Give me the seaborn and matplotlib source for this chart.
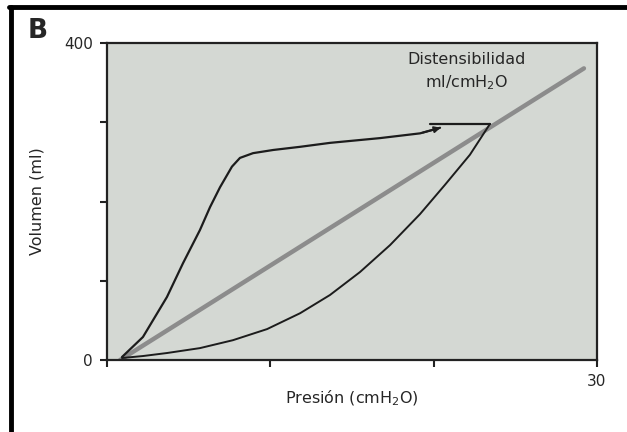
import matplotlib
matplotlib.use("Agg")
import matplotlib.pyplot as plt
import seaborn as sns
import pandas as pd
from matplotlib.lines import Line2D

sns.set_theme(style="white")
plt.rcParams['font.family'] = ['DejaVu Sans']

# Upper limb of the loop
upper_p = [0.92, 2.20, 3.67, 4.65, 5.69, 6.31, 6.92, 7.65, 8.14, 8.94, 10.17, 11.82, 13.66, 16.72, 19.17, 20.39]
upper_v = [3.8, 29, 79.5, 122, 164, 193, 218, 244, 255, 261, 265, 269, 274, 280, 286, 293]

# Horizontal top segment
top_p = [19.78, 23.45]
top_v = [298, 298]

# Lower limb of the loop
lower_p = [23.45, 22.22, 20.69, 19.16, 17.33, 15.49, 13.65, 11.82, 9.80, 7.71, 5.69, 3.67, 2.20, 0.92]
lower_v = [298, 259, 221, 184, 145, 111, 82, 59, 39, 25, 15, 8.8, 5, 2.5]

# Compliance line
comp_p = [0.8, 29.2]
comp_v = [0, 368]

x_ticks = [0, 10, 20, 30]
x_labels = ['', '', '', '30']
y_ticks = [0, 100, 200, 300, 400]
y_labels = ['0', '', '', '', '400']

fig = plt.figure(figsize=(6.27, 4.32), dpi=100)
ax = fig.add_axes([107/627, 1-360/432, 490/627, 317/432])
ax.set_facecolor('#d4d8d3')

df_c = pd.DataFrame({'p': comp_p, 'v': comp_v})
sns.lineplot(data=df_c, x='p', y='v', ax=ax, color='#8c8c8c', lw=3.2, sort=False)
df_u = pd.DataFrame({'p': upper_p, 'v': upper_v})
sns.lineplot(data=df_u, x='p', y='v', ax=ax, color='#1c1c1c', lw=1.6, sort=False)
df_t = pd.DataFrame({'p': top_p, 'v': top_v})
sns.lineplot(data=df_t, x='p', y='v', ax=ax, color='#1c1c1c', lw=1.6, sort=False)
df_l = pd.DataFrame({'p': lower_p, 'v': lower_v})
sns.lineplot(data=df_l, x='p', y='v', ax=ax, color='#1c1c1c', lw=1.4, sort=False)

# arrow hook at end of upper limb
ax.annotate('', xy=(upper_p[-1] + 0.2, upper_v[-1] + 1), xytext=(upper_p[-2], upper_v[-2]),
            arrowprops=dict(arrowstyle='-|>', color='#1c1c1c', lw=1.4, mutation_scale=9))

ax.set_xlim(0, 30)
ax.set_ylim(0, 400)
ax.set_xticks(x_ticks)
ax.set_xticklabels(x_labels)
ax.set_yticks(y_ticks)
ax.set_yticklabels(y_labels)
ax.tick_params(axis='both', direction='out', length=5, width=1.5, color='#222222',
               labelsize=11, left=True, bottom=True)
ax.tick_params(axis='x', pad=5)
ax.tick_params(axis='y', pad=5)
for s in ax.spines.values():
    s.set_color('#222222')
    s.set_linewidth(1.6)

ax.set_xlabel('Presión (cmH$_2$O)', fontsize=11.5, labelpad=0)
ax.set_ylabel('Volumen (ml)', fontsize=11.5, labelpad=14)

ax.text(0.733, 0.91, 'Distensibilidad\nml/cmH$_2$O', transform=ax.transAxes,
        ha='center', va='center', fontsize=11.5, linespacing=1.45)

fig.text(28/627, 1-31/432, 'B', fontsize=19, fontweight='bold', ha='left', va='center')

# outer partial frame (left and top)
fig.add_artist(Line2D([11/627, 11/627], [0, 1-7/432], transform=fig.transFigure, color='black', lw=3.5))
fig.add_artist(Line2D([9/627, 1], [1-7/432, 1-7/432], transform=fig.transFigure, color='black', lw=3.5))

fig.savefig('out.png', dpi=100)
